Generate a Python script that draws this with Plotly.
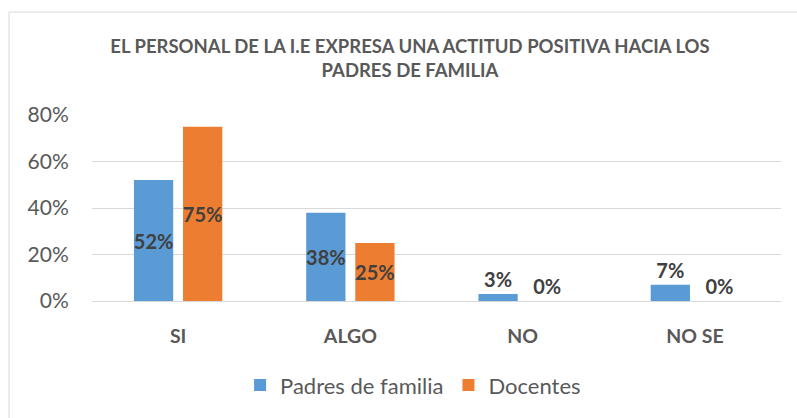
import plotly.graph_objects as go

categories = ["SI", "ALGO", "NO", "NO SE"]
padres = [0.52, 0.38, 0.03, 0.07]
docentes = [0.75, 0.25, 0.0, 0.0]
series_names = ["Padres de familia", "Docentes"]
tick_vals = [0, 0.2, 0.4, 0.6, 0.8]
tick_text = ["0%", "20%", "40%", "60%", "80%"]
title_text = "EL PERSONAL DE LA I.E EXPRESA UNA ACTITUD POSITIVA HACIA LOS<br>PADRES DE FAMILIA"

FONT = "Lato"
label_font = dict(family=FONT, size=20, color="#404040", weight="bold")


def positions(vals):
    return ["inside" if v >= 0.15 else "outside" for v in vals]


fig = go.Figure()
for name, vals, color in [(series_names[0], padres, "#5B9BD5"), (series_names[1], docentes, "#ED7D31")]:
    fig.add_trace(go.Bar(
        x=categories, y=vals, name=name,
        marker=dict(color=color, line=dict(width=0)),
        text=[f"{round(v*100)}%" for v in vals],
        textposition=positions(vals),
        insidetextanchor="middle",
        textangle=0,
        textfont=label_font,
        insidetextfont=label_font,
        outsidetextfont=label_font,
        constraintext="none",
        cliponaxis=False,
        hoverinfo="skip",
    ))

fig.update_layout(
    width=797, height=418,
    margin=dict(l=92, r=16, t=115, b=115),
    paper_bgcolor="white", plot_bgcolor="white",
    barmode="group", bargap=0.43, bargroupgap=0.2,
    title=dict(text=title_text, x=410/797, xanchor="center", xref="container",
               y=1 - 53/418, yanchor="top",
               font=dict(family=FONT, size=18.5, color="#595959", weight="bold")),
    legend=dict(orientation="h", x=0.466, xanchor="center", y=-0.34, yanchor="top",
                font=dict(family=FONT, size=22, color="#595959"),
                itemsizing="constant", traceorder="normal"),
    showlegend=True,
    yaxis=dict(range=[0, 0.8], tickvals=tick_vals, ticktext=tick_text,
               showgrid=True, gridcolor="#D9D9D9", gridwidth=1,
               zeroline=False, showline=False,
               tickfont=dict(family=FONT, size=21, color="#595959"),
               ticks="outside", ticklen=18, tickcolor="rgba(0,0,0,0)"),
    xaxis=dict(showline=True, linecolor="#D9D9D9", linewidth=1,
               tickfont=dict(family=FONT, size=19.5, color="#595959", weight="bold"),
               ticks="outside", ticklen=18, tickcolor="rgba(0,0,0,0)"),
    shapes=[dict(type="rect", xref="paper", yref="paper",
                 x0=(9-92)/689, x1=1.2, y0=-1.0, y1=(303-11)/188,
                 line=dict(color="#D9D9D9", width=1), layer="below")],
)

fig.write_html("out.html", post_script="document.body.style.margin='0';",
               config={"displayModeBar": False})
